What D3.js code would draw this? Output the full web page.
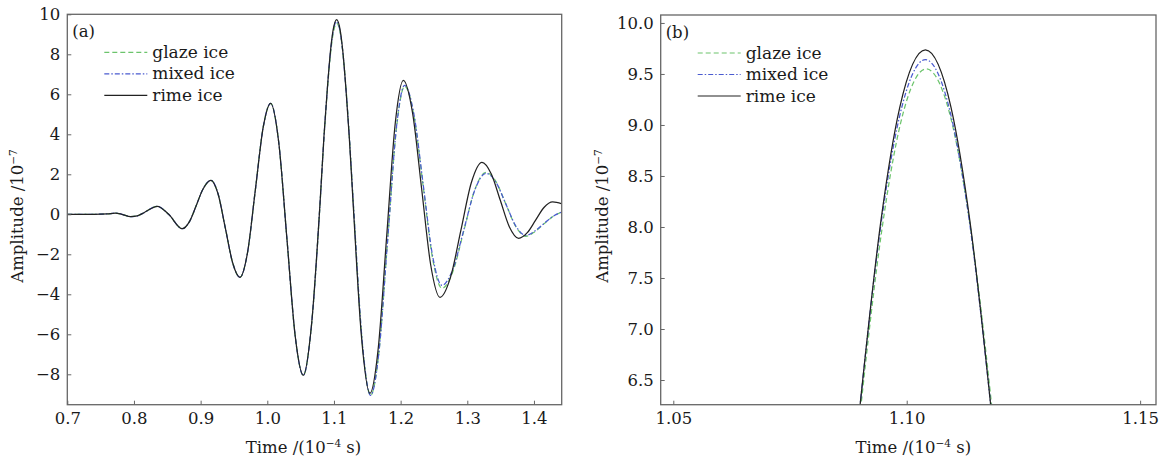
<!DOCTYPE html>
<html lang="en">
<head>
    <meta charset="UTF-8">
    <title>Ice type waveforms</title>
    <style>
        body {
            margin: 0;
            background: #fff;
        }

        svg text {
            font-family: "DejaVu Serif", "Liberation Serif", serif;
            fill: #1a1a1a;
        }

        .frame {
            fill: none;
            stroke: #666;
            stroke-width: 1.3px;
        }

        .tick line {
            stroke: #666;
        }

        .curve {
            fill: none;
            stroke-width: 1.25px;
        }
    </style>
</head>
<body>
    <div id="chart"></div>
    <script src="https://d3js.org/d3.v7.min.js"></script>
    <script>
        // Waveform points: [time (1e-4 s), amplitude (1e-7)]
        // All three ice types overlap until the main peak
        const earlyWave = [
            [0.700, 0], [0.740, 0], [0.760, 0.02], [0.772, 0.06], [0.782, 0.0],
            [0.795, -0.12], [0.805, -0.08], [0.815, 0.08], [0.835, 0.40], [0.852, 0.0],
            [0.8725, -0.72], [0.883, -0.38], [0.893, 0.40], [0.903, 1.23], [0.9155, 1.70],
            [0.926, 1.04], [0.937, -0.68], [0.948, -2.42], [0.959, -3.15],
            [0.970, -1.98], [0.982, 1.20], [0.994, 4.38], [1.005, 5.55],
            [1.017, 3.64], [1.0295, -1.25], [1.042, -6.13], [1.054, -8.05]
        ];

        const glazeLate = [
            [1.066, -5.64], [1.079, 0.45], [1.085, 3.80],
            [1.0902, 6.25], [1.0947, 7.98], [1.0987, 9.02], [1.1042, 9.55],
            [1.1097, 9.02], [1.1137, 7.98], [1.1182, 6.25],
            [1.123, 3.94], [1.1296, 0.25], [1.142, -6.24], [1.155, -9.05],
            [1.167, -7.03], [1.1805, -1.33], [1.194, 4.38], [1.206, 6.40],
            [1.220, 4.92], [1.234, 1.35], [1.248, -2.22], [1.262, -3.70],
            [1.2785, -2.85], [1.295, -0.80], [1.3115, 1.25], [1.328, 2.10],
            [1.343, 1.63], [1.358, 0.50], [1.373, -0.63], [1.388, -1.10],
            [1.402, -0.85], [1.416, -0.45], [1.430, -0.08], [1.442, 0.12]
        ];

        const mixedLate = [
            [1.066, -5.64], [1.079, 0.48], [1.085, 3.85],
            [1.090, 6.25], [1.0945, 8.03], [1.0985, 9.09], [1.104, 9.64],
            [1.1095, 9.09], [1.1135, 8.03], [1.118, 6.25],
            [1.123, 3.90], [1.1295, 0.30], [1.142, -6.20], [1.155, -9.05],
            [1.167, -7.03], [1.1805, -1.30], [1.194, 4.43], [1.206, 6.45],
            [1.220, 4.99], [1.234, 1.45], [1.248, -2.09], [1.262, -3.55],
            [1.2785, -2.73], [1.295, -0.75], [1.3115, 1.23], [1.328, 2.05],
            [1.343, 1.60], [1.358, 0.50], [1.373, -0.60], [1.388, -1.05],
            [1.402, -0.82], [1.416, -0.43], [1.430, -0.07], [1.442, 0.12]
        ];

        const rimeLate = [
            [1.066, -5.64], [1.079, 0.50], [1.085, 3.90],
            [1.090, 6.25], [1.0945, 8.07], [1.0985, 9.17], [1.104, 9.735],
            [1.1095, 9.17], [1.1135, 8.07], [1.118, 6.25],
            [1.123, 3.83], [1.129, 0.39], [1.141, -6.02], [1.154, -8.95],
            [1.166, -6.83], [1.179, -1.13], [1.192, 4.58], [1.204, 6.70],
            [1.218, 5.05], [1.2315, 1.28], [1.245, -2.51], [1.259, -4.15],
            [1.275, -3.13], [1.2905, -0.78], [1.306, 1.58], [1.322, 2.60],
            [1.336, 2.02], [1.3495, 0.70], [1.363, -0.62], [1.377, -1.20],
            [1.390, -0.92], [1.4025, -0.29], [1.415, 0.34], [1.428, 0.62], [1.442, 0.52]
        ];

        const seriesNames = ["glaze ice", "mixed ice", "rime ice"];
        const seriesData = [
            earlyWave.concat(glazeLate),
            earlyWave.concat(mixedLate),
            earlyWave.concat(rimeLate)
        ];

        const ticksA_x = [0.7, 0.8, 0.9, 1.0, 1.1, 1.2, 1.3, 1.4];
        const ticksA_y = [-8, -6, -4, -2, 0, 2, 4, 6, 8, 10];
        const ticksB_x = [1.05, 1.10, 1.15];
        const ticksB_y = [6.5, 7.0, 7.5, 8.0, 8.5, 9.0, 9.5, 10.0];

        const styles = [
            { color: "#6cc46c", dash: "5,3" },
            { color: "#4a5bd0", dash: "5,2,1.5,2" },
            { color: "#222222", dash: null }
        ];

        const svg = d3.select("#chart").append("svg")
            .attr("width", 1163)
            .attr("height", 461);

        function drawPanel(p) {
            const x = d3.scaleLinear().domain(p.xDomain).range([p.left, p.right]);
            const y = d3.scaleLinear().domain(p.yDomain).range([p.bottom, p.top]);
            const g = svg.append("g");

            g.append("clipPath").attr("id", p.id + "-clip")
                .append("rect")
                .attr("x", p.left).attr("y", p.top)
                .attr("width", p.right - p.left).attr("height", p.bottom - p.top);

            // curves
            const line = d3.line()
                .x(d => x(d[0]))
                .y(d => y(d[1]))
                .curve(d3.curveMonotoneX);

            g.append("g").attr("clip-path", "url(#" + p.id + "-clip)")
                .selectAll("path")
                .data(seriesData)
                .enter().append("path")
                .attr("class", "curve")
                .attr("d", line)
                .attr("stroke", (d, i) => styles[i].color)
                .attr("stroke-dasharray", (d, i) => styles[i].dash);

            // axes, ticks pointing inward
            const xAxis = g.append("g")
                .attr("transform", "translate(0," + p.bottom + ")")
                .call(d3.axisBottom(x).tickValues(p.xTicks).tickFormat(d3.format(p.xFmt))
                    .tickSizeInner(-4).tickSizeOuter(0).tickPadding(8));
            const yAxis = g.append("g")
                .attr("transform", "translate(" + p.left + ",0)")
                .call(d3.axisLeft(y).tickValues(p.yTicks).tickFormat(d3.format(p.yFmt))
                    .tickSizeInner(-4).tickSizeOuter(0).tickPadding(7));
            [xAxis, yAxis].forEach(a => {
                a.select(".domain").remove();
                a.selectAll("text").style("font-size", "16.5px").attr("fill", "#1a1a1a");
            });

            g.append("rect")
                .attr("class", "frame")
                .attr("x", p.left).attr("y", p.top)
                .attr("width", p.right - p.left).attr("height", p.bottom - p.top);

            // axis titles
            const xt = g.append("text")
                .attr("x", (p.left + p.right) / 2 + p.titleShift)
                .attr("y", 453)
                .attr("text-anchor", "middle")
                .style("font-size", "16.5px")
                .text("Time /(10");
            xt.append("tspan").attr("dy", -6).style("font-size", "10.5px").text("\u22124");
            xt.append("tspan").attr("dy", 6).text(" s)");

            const yt = g.append("text")
                .attr("transform", "translate(" + p.yTitleX + ",216) rotate(-90)")
                .attr("text-anchor", "middle")
                .style("font-size", "16.5px")
                .text("Amplitude /10");
            yt.append("tspan").attr("dy", -6).style("font-size", "10.5px").text("\u22127");

            // panel label and legend
            g.append("text")
                .attr("x", p.left + 5).attr("y", p.top + 23)
                .style("font-size", "16.5px")
                .text(p.label);

            const leg = g.append("g")
                .attr("transform", "translate(" + (p.left + p.legendDx) + "," + (p.top + 38) + ")");
            seriesNames.forEach((name, i) => {
                const row = leg.append("g").attr("transform", "translate(0," + (i * 21.5) + ")");
                row.append("line")
                    .attr("x1", 0).attr("x2", 43)
                    .attr("stroke", styles[i].color)
                    .attr("stroke-width", 1.2)
                    .attr("stroke-dasharray", styles[i].dash);
                row.append("text")
                    .attr("x", 48).attr("y", 5.5)
                    .style("font-size", "17px")
                    .text(name);
            });
        }

        drawPanel({
            id: "a", label: "(a)",
            left: 67.3, right: 561.7, top: 14.3, bottom: 404.7,
            xDomain: [0.7, 1.4416], yDomain: [-9.52, 10],
            xTicks: ticksA_x, yTicks: ticksA_y, xFmt: ".1f", yFmt: "d",
            titleShift: -11, yTitleX: 23, legendDx: 37
        });

        drawPanel({
            id: "b", label: "(b)",
            left: 660.7, right: 1156, top: 15, bottom: 404.7,
            xDomain: [1.0473, 1.1534], yDomain: [6.258, 10.078],
            xTicks: ticksB_x, yTicks: ticksB_y, xFmt: ".2f", yFmt: ".1f",
            titleShift: 5, yTitleX: 608, legendDx: 37
        });
    </script>
</body>
</html>
